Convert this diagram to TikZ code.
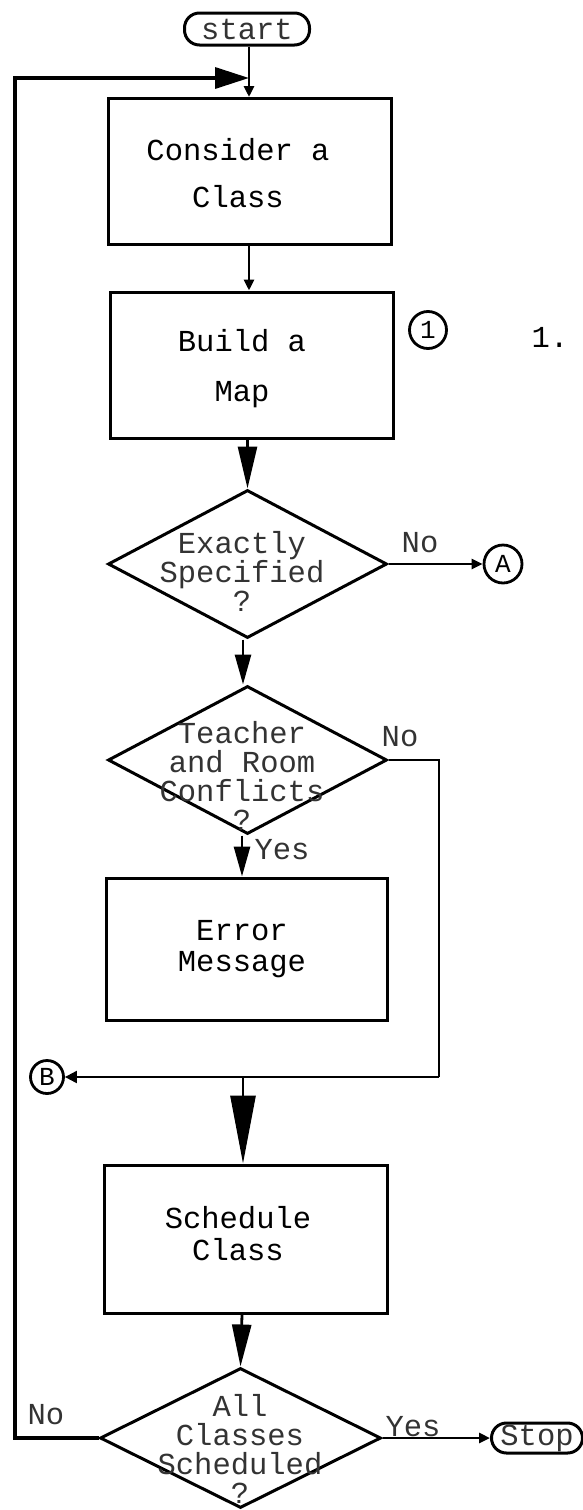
\documentclass[tikz,border=0pt]{standalone}
\usepackage{fontspec}
\setmonofont{Liberation Mono}
\usetikzlibrary{arrows.meta,shapes.geometric}
\begin{document}
\begin{tikzpicture}[x=1pt,y=-1pt,
  line width=2.8pt,
  txt/.style={font=\ttfamily\fontsize{30.5}{31}\selectfont, inner sep=0pt},
  btxt/.style={font=\ttfamily\fontsize{30.5}{31}\selectfont, inner sep=0pt, align=center},
  dtxt/.style={font=\ttfamily\fontsize{30.5}{29}\selectfont, inner sep=0pt, align=center, text=black!80},
  proc/.style={draw, line width=3pt, rectangle, minimum width=283pt, minimum height=146pt, inner sep=0pt},
  decision/.style={draw, line width=3pt, diamond, minimum width=279pt, minimum height=148pt, inner sep=0pt},
  term/.style={draw, line width=3pt, rectangle, rounded corners=15pt, inner sep=0pt, font=\ttfamily\fontsize{30.5}{31}\selectfont, text=black!80},
  conn/.style={draw, circle, line width=2.8pt, inner sep=0pt, font=\ttfamily\fontsize{26}{26}\selectfont},
  tipS/.style={-{Triangle[length=11pt,width=10pt]}},
  tipM/.style={-{Triangle[length=30pt,width=16pt]}},
  tipL/.style={-{Triangle[length=42pt,width=19pt]}},
  tipXL/.style={-{Triangle[length=68pt,width=25pt]}},
  tipLoop/.style={-{Triangle[length=34pt,width=21pt]}},
]
\useasboundingbox (0,0) rectangle (583,1510);

% nodes
\node[term, minimum width=125pt, minimum height=32pt] (start) at (247,29) {start};
\node[proc] (cons) at (250,171.5) {};
\node[btxt] (const) at (238,173.5) {Consider a\\[16pt]Class};
\node[proc] (build) at (252,365) {};
\node[btxt] (buildt) at (242,369) {Build a\\[19pt]Map};
\node[conn, minimum size=37pt] (c1) at (428,330) {1};
\node[txt] (num) at (550,337) {1.};
\node[decision] (d1) at (247.5,564) {};
\node[dtxt] (d1t) at (242,571) {Exactly\\Specified\\?};
\node[conn, minimum size=38pt] (A) at (503,564) {A};
\node[decision] (d2) at (247.5,760) {};
\node[dtxt] (d2t) at (242,776) {Teacher\\and Room\\Conflicts\\?};
\node[proc, minimum width=281pt, minimum height=142pt] (err) at (246.5,949) {};
\node[btxt] (errt) at (242,949) {Error\\Message};
\node[conn, minimum size=33pt] (B) at (47,1077) {B};
\node[proc, minimum height=148pt] (sched) at (246,1239) {};
\node[btxt] (schedt) at (238,1234) {Schedule\\[1pt]Class};
\node[decision, minimum width=281pt, minimum height=140pt] (d3) at (240.5,1438) {};
\node[dtxt] (d3t) at (240,1449) {All\\Classes\\Scheduled\\?};
\node[term, minimum width=91pt, minimum height=30pt] (stop) at (537,1438) {Stop};

% labels
\node[txt, text=black!80] (no1) at (420,543) {No};
\node[txt, text=black!80] (no2) at (400,737) {No};
\node[txt, text=black!80] (yes2) at (282,850) {Yes};
\node[txt, text=black!80] (no3) at (46,1415) {No};
\node[txt, text=black!80] (yes3) at (413,1427) {Yes};

% helper coordinates
\coordinate (j1) at (249,78);
\coordinate (lt) at (15,78);
\coordinate (r1) at (439,760);
\coordinate (r2) at (439,1077);
\coordinate (j2) at (243,1077);
\coordinate (s2) at (243,0);
\coordinate (s3) at (242,0);

% connectors
\draw (start.south -| j1) -- (j1);
\draw[tipS] (j1) -- (j1 |- cons.north);
\draw[tipLoop, line width=3.4pt] (d3.west) -| (lt) -- (j1);
\draw[tipS] (cons.south -| j1) -- (j1 |- build.north);
\draw[tipL] (build.south -| d1.north) -- (d1.north);
\draw[tipM] (d1.south -| s2) -- (s2 |- d2.north);
\draw[tipM] (d2.south -| s3) -- (s3 |- err.north);
\draw[tipS] (d1.east) -- (A.west);
\draw[line width=2.2pt] (d2.east) -- (r1) -- (r2);
\draw[line width=2pt, -{Triangle[length=12pt,width=12pt]}] (r2) -- (B.east);
\draw[tipXL] (j2) -- (j2 |- sched.north);
\draw[tipL] (sched.south -| s3) -- (d3.north);
\draw[tipS] (d3.east) -- (stop.west);
\end{tikzpicture}
\end{document}
